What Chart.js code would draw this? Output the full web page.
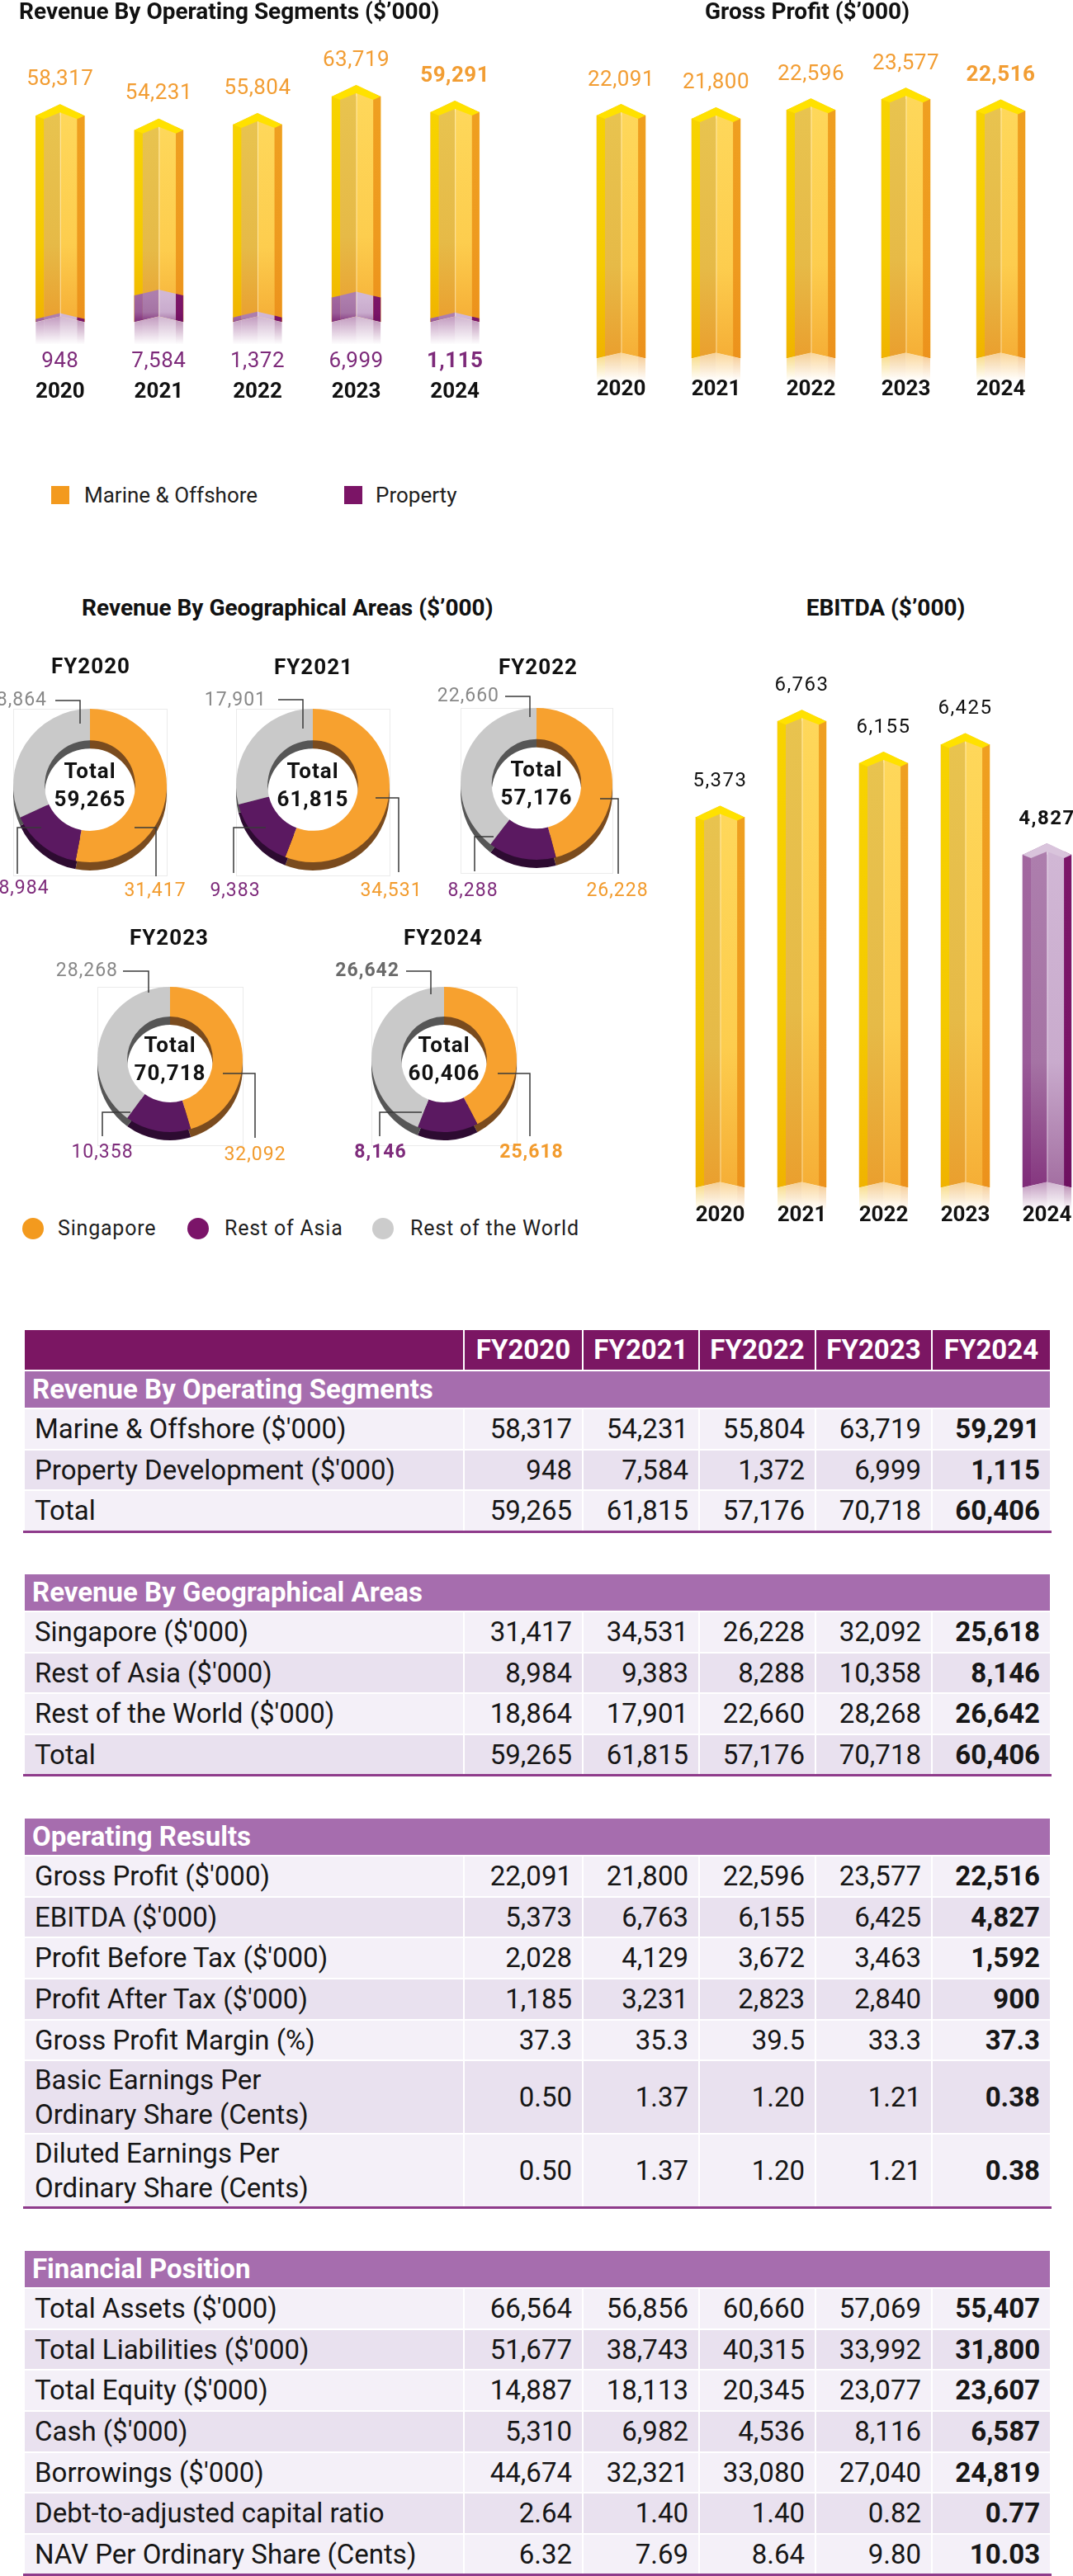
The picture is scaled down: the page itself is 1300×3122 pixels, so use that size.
<!DOCTYPE html>
<html><head><meta charset="utf-8">
<script src="https://cdn.jsdelivr.net/npm/chart.js@4.4.1/dist/chart.umd.min.js"></script>
<style>
html,body{margin:0;padding:0;background:#fff;}
body{width:1300px;height:3122px;position:relative;overflow:hidden;font-family:Roboto,"Noto Sans",sans-serif;color:#141414;}
.abs{position:absolute;white-space:nowrap;}
canvas{position:absolute;}
.ttl{font-weight:700;font-size:28px;line-height:32px;color:#111;}
.fy{font-weight:700;font-size:26px;line-height:30px;letter-spacing:1px;color:#111;text-align:center;width:200px;}
.lg{font-size:26px;line-height:30px;color:#1e1e1e;}
.glg{font-size:25px;line-height:30px;color:#1e1e1e;letter-spacing:0.8px;}
table.fin{position:absolute;left:28px;width:1244px;border-collapse:collapse;table-layout:fixed;font-size:33px;color:#161616;}
table.fin th,table.fin td{border:2px solid #fff;padding:0 12px;white-space:nowrap;overflow:hidden;vertical-align:middle;line-height:1.15;box-sizing:border-box;}
tr.hd th{background:#7B1663;color:#fff;font-weight:700;height:50px;text-align:center;padding:0;}
tr.sec td{background:#A66DAE;color:#fff;font-weight:700;height:46px;padding-left:9px;}
tr.lt td{background:#F4F0F8;height:49.7px;}
tr.dk td{background:#E9E1EF;height:49.7px;}
tr.two td{height:89px;}
tr.two td.lb{line-height:42px;}
td.num{text-align:right;}
td.hi{font-weight:700;}
tr.last td{border-bottom:3px solid #8E3B8B;}
</style></head><body>
<canvas id="segChart" width="598" height="562" style="left:13px;top:0px"></canvas>
<canvas id="gpChart" width="575" height="511" style="left:695px;top:0px"></canvas>
<canvas id="ebitdaChart" width="495" height="748" style="left:823px;top:760px"></canvas>
<script>
// ---------------- DATA ----------------
const years = ['2020', '2021', '2022', '2023', '2024'];
const fyLabels = ['FY2020', 'FY2021', 'FY2022', 'FY2023', 'FY2024'];
const segmentNames = ['Marine & Offshore', 'Property'];
const marineOffshore = [58317, 54231, 55804, 63719, 59291];
const propertyDev = [948, 7584, 1372, 6999, 1115];
const segmentTotals = [59265, 61815, 57176, 70718, 60406];
const grossProfit = [22091, 21800, 22596, 23577, 22516];
const ebitda = [5373, 6763, 6155, 6425, 4827];
const geoNames = ['Singapore', 'Rest of Asia', 'Rest of the World'];
const singapore = [31417, 34531, 26228, 32092, 25618];
const restOfAsia = [8984, 9383, 8288, 10358, 8146];
const restOfWorld = [18864, 17901, 22660, 28268, 26642];
const geoTotals = [59265, 61815, 57176, 70718, 60406];
const profitBeforeTax = [2028, 4129, 3672, 3463, 1592];
const profitAfterTax = [1185, 3231, 2823, 2840, 900];
const grossProfitMargin = [37.3, 35.3, 39.5, 33.3, 37.3];
const basicEps = [0.50, 1.37, 1.20, 1.21, 0.38];
const dilutedEps = [0.50, 1.37, 1.20, 1.21, 0.38];
const totalAssets = [66564, 56856, 60660, 57069, 55407];
const totalLiabilities = [51677, 38743, 40315, 33992, 31800];
const totalEquity = [14887, 18113, 20345, 23077, 23607];
const cash = [5310, 6982, 4536, 8116, 6587];
const borrowings = [44674, 32321, 33080, 27040, 24819];
const debtToAdjustedCapital = [2.64, 1.40, 1.40, 0.82, 0.77];
const navPerShare = [6.32, 7.69, 8.64, 9.80, 10.03];
const highlightIndex = 4;

// ---------------- STYLE ----------------
const fmt = (v, d = 0) => v.toLocaleString('en-US', {minimumFractionDigits: d, maximumFractionDigits: d});
const hexA = (hex, a) => { const n = parseInt(hex.slice(1), 16); return `rgba(${n >> 16 & 255},${n >> 8 & 255},${n & 255},${a})`; };
const ORANGE_TXT = '#F29D33', PURPLE_TXT = '#7D2A7A';
const GOLD = {
  left: ['#F7D300', '#F4C900', '#F0B300'],
  a: ['#E8C34F', '#E6BA47', '#EA9F2E'],
  b: ['#FED75A', '#FDCD4E', '#F5AE36'],
  right: ['#EF9F20', '#EE9A1F', '#EC921C'],
  cap: '#FFE100'
};
const PURPLE = {
  left: ['#A2679F', '#9A5B98', '#7E2A78'],
  a: ['#AD7EAD', '#A573A4', '#85367F'],
  b: ['#D1B7D5', '#C9ABCD', '#A36EA1'],
  right: ['#7C1669', '#7A1467', '#6E1060'],
  cap: '#D9C4DC'
};

function drawPrism(ctx, xc, w, top, bottom, pal, o) {
  const xl = xc - w / 2, xr = xc + w / 2, capH = 14, vH = 7, reflH = 27;
  const tri = x => 1 - Math.abs(x - xc) / (w / 2);
  const T = o.cap ? (x => top - capH * tri(x)) : (x => top - vH * tri(x));
  const B = x => bottom - vH * tri(x);
  const xs = [xl, xl + 0.17 * w, xc, xr - 0.15 * w, xr];
  const faces = [pal.left, pal.a, pal.b, pal.right];
  for (let i = 0; i < 4; i++) {
    const x0 = xs[i], x1 = xs[i + 1], c = faces[i];
    const g = ctx.createLinearGradient(0, top, 0, bottom);
    g.addColorStop(0, c[0]); g.addColorStop(0.62, c[1]); g.addColorStop(1, c[2]);
    ctx.fillStyle = g;
    ctx.beginPath();
    ctx.moveTo(x0, T(x0)); ctx.lineTo(x1, T(x1)); ctx.lineTo(x1, B(x1)); ctx.lineTo(x0, B(x0));
    ctx.closePath(); ctx.fill();
  }
  ctx.strokeStyle = 'rgba(255,255,255,0.5)'; ctx.lineWidth = 1;
  ctx.beginPath(); ctx.moveTo(xc + 0.5, T(xc)); ctx.lineTo(xc + 0.5, B(xc)); ctx.stroke();
  if (o.cap) {
    ctx.fillStyle = pal.cap;
    ctx.beginPath();
    ctx.moveTo(xl, top); ctx.lineTo(xc, top - capH); ctx.lineTo(xr, top);
    ctx.lineTo(xs[3], top + 4); ctx.lineTo(xc, top - 4); ctx.lineTo(xs[1], top + 4);
    ctx.closePath(); ctx.fill();
  }
  if (o.reflect) {
    ctx.fillStyle = '#fff';
    ctx.beginPath(); ctx.moveTo(xl - 1, bottom); ctx.lineTo(xc, bottom - vH); ctx.lineTo(xr + 1, bottom);
    ctx.lineTo(xr + 1, bottom + 2); ctx.lineTo(xl - 1, bottom + 2); ctx.closePath(); ctx.fill();
    for (let i = 0; i < 4; i++) {
      const x0 = xs[i], x1 = xs[i + 1], c = faces[i][2];
      const g = ctx.createLinearGradient(0, bottom - vH, 0, bottom + reflH);
      g.addColorStop(0, hexA(c, 0.5)); g.addColorStop(1, hexA(c, 0));
      ctx.fillStyle = g;
      ctx.beginPath();
      ctx.moveTo(x0, B(x0)); ctx.lineTo(x1, B(x1)); ctx.lineTo(x1, bottom + reflH); ctx.lineTo(x0, bottom + reflH);
      ctx.closePath(); ctx.fill();
    }
  }
}

function barOptions(padTop, padBottom, tickPad, yMax) {
  return {
    responsive: false, animation: false, events: [], devicePixelRatio: 1,
    layout: {padding: {top: padTop, bottom: padBottom, left: 0, right: 0}},
    plugins: {legend: {display: false}, tooltip: {enabled: false}},
    scales: {
      x: {grid: {display: false, drawTicks: false}, border: {display: false},
          afterFit: s => { s.paddingLeft = 0; s.paddingRight = 0; },
          ticks: {padding: tickPad, color: '#111', font: {family: 'Roboto', size: 26, weight: 'bold'}}},
      y: {display: false, min: 0, max: yMax}
    }
  };
}

// ---------------- CHART 1: Revenue by operating segments ----------------
new Chart(document.getElementById('segChart'), {
  type: 'bar',
  data: {labels: years, datasets: [
    {label: segmentNames[0], data: marineOffshore, backgroundColor: '#F5BB40', grouped: false, barThickness: 59, borderWidth: 0},
    {label: segmentNames[1], data: propertyDev, backgroundColor: '#A874A8', grouped: false, barThickness: 59, borderWidth: 0}
  ]},
  options: barOptions(60, 1.4, 69.4, 77000),
  plugins: [{id: 'segPrism', afterDatasetsDraw(chart) {
    const ctx = chart.ctx, m0 = chart.getDatasetMeta(0).data, m1 = chart.getDatasetMeta(1).data;
    const d0 = chart.data.datasets[0].data, d1 = chart.data.datasets[1].data;
    ctx.save();
    m0.forEach((el, i) => {
      const p = m1[i];
      drawPrism(ctx, el.x, el.width, el.y, el.base, GOLD, {cap: true});
      drawPrism(ctx, p.x, p.width, p.y, p.base, PURPLE, {cap: false, reflect: true});
    });
    ctx.textAlign = 'center'; ctx.textBaseline = 'middle'; ctx.letterSpacing = '0.5px';
    m0.forEach((el, i) => {
      const hi = i === highlightIndex;
      ctx.font = `${hi ? 'bold ' : ''}26px Roboto`;
      ctx.fillStyle = ORANGE_TXT; ctx.fillText(fmt(d0[i]), el.x, el.y - 44);
      ctx.fillStyle = PURPLE_TXT; ctx.fillText(fmt(d1[i]), el.x, el.base + 48);
    });
    ctx.restore();
  }}]
});

// ---------------- CHART 2: Gross profit ----------------
new Chart(document.getElementById('gpChart'), {
  type: 'bar',
  data: {labels: years, datasets: [{label: 'Gross Profit', data: grossProfit, backgroundColor: '#F5BB40', barThickness: 59, borderWidth: 0}]},
  options: barOptions(60, 0.4, 22.4, 28100),
  plugins: [{id: 'gpPrism', afterDatasetsDraw(chart) {
    const ctx = chart.ctx, m = chart.getDatasetMeta(0).data, d = chart.data.datasets[0].data;
    ctx.save();
    m.forEach(el => drawPrism(ctx, el.x, el.width, el.y, el.base, GOLD, {cap: true, reflect: true}));
    ctx.textAlign = 'center'; ctx.textBaseline = 'middle'; ctx.letterSpacing = '0.5px'; ctx.fillStyle = ORANGE_TXT;
    m.forEach((el, i) => { ctx.font = `${i === highlightIndex ? 'bold ' : ''}26px Roboto`; ctx.fillText(fmt(d[i]), el.x, el.y - 43); });
    ctx.restore();
  }}]
});

// ---------------- CHART 3: EBITDA ----------------
new Chart(document.getElementById('ebitdaChart'), {
  type: 'bar',
  data: {labels: years, datasets: [{label: 'EBITDA', data: ebitda,
    backgroundColor: years.map((y, i) => i === highlightIndex ? '#A874A8' : '#F5BB40'), barThickness: 59, borderWidth: 0}]},
  options: barOptions(40, 0.4, 18.4, 7650),
  plugins: [{id: 'ebPrism', afterDatasetsDraw(chart) {
    const ctx = chart.ctx, m = chart.getDatasetMeta(0).data, d = chart.data.datasets[0].data;
    ctx.save();
    m.forEach((el, i) => drawPrism(ctx, el.x, el.width, el.y, el.base, i === highlightIndex ? PURPLE : GOLD, {cap: true, reflect: true}));
    ctx.textAlign = 'center'; ctx.textBaseline = 'middle'; ctx.letterSpacing = '1.5px'; ctx.fillStyle = '#111';
    m.forEach((el, i) => { ctx.font = `${i === highlightIndex ? 'bold ' : ''}24px Roboto`; ctx.fillText(fmt(d[i]), el.x, el.y - 43); });
    ctx.restore();
  }}]
});

// ---------------- DONUTS: Revenue by geographical areas ----------------
const donutColors = ['#F7A12F', '#5B1961', '#C9C9C9'];
const donutDark = ['#7A4B1E', '#2D0B31', '#565656'];
const calloutColors = ['#F29B2D', '#7E2B7B', '#888888'];
const donutLayout = [
  {cx: 109, cy: 952, R: 93, call: [
    {line: [[54, 51], [80, 51], [80, 110]], text: [79, 128], align: 'center'},
    {line: [[-59, 51], [-88, 51], [-88, 107]], text: [-80, 125], align: 'center'},
    {line: [[-42, -103], [-12, -103], [-12, -75]], text: [-52, -103], align: 'right'}]},
  {cx: 379, cy: 952, R: 93, call: [
    {line: [[76, 15], [104, 15], [104, 105]], text: [95, 128], align: 'center'},
    {line: [[-57, 51], [-96, 51], [-96, 106]], text: [-94, 128], align: 'center'},
    {line: [[-42, -104], [-12, -104], [-12, -69]], text: [-56, -103], align: 'right'}]},
  {cx: 650, cy: 950, R: 92, call: [
    {line: [[77, 18], [99, 18], [99, 109]], text: [98, 130], align: 'center'},
    {line: [[-52, 64], [-75, 64], [-75, 106]], text: [-77, 130], align: 'center'},
    {line: [[-38, -106], [-8, -106], [-8, -81]], text: [-45, -106], align: 'right'}]},
  {cx: 206, cy: 1284, R: 88, call: [
    {line: [[64, 17], [103, 17], [103, 95]], text: [103, 116], align: 'center'},
    {line: [[-48, 64], [-82, 64], [-82, 93]], text: [-82, 113], align: 'center'},
    {line: [[-57, -107], [-26, -107], [-26, -81]], text: [-63, -107], align: 'right'}]},
  {cx: 538, cy: 1284, R: 88, call: [
    {line: [[65, 17], [104, 17], [104, 93]], text: [106, 113], align: 'center'},
    {line: [[-27, 64], [-78, 64], [-78, 93]], text: [-77, 113], align: 'center'},
    {line: [[-46, -107], [-16, -107], [-16, -79]], text: [-54, -107], align: 'right'}]}
];
const fyLabelPos = [[110, 807], [380, 808], [652, 808], [205, 1136], [537, 1136]];

const donutPlugin = {
  id: 'donut3d',
  beforeDatasetsDraw(chart, args, opts) {
    const ctx = chart.ctx, arcs = chart.getDatasetMeta(0).data, a0 = arcs[0], R = a0.outerRadius;
    ctx.save();
    ctx.strokeStyle = 'rgba(0,0,0,0.08)'; ctx.lineWidth = 1;
    ctx.strokeRect(Math.round(a0.x - R) + 0.5, Math.round(a0.y - R) + 0.5, 2 * R, 2 * R + opts.depth + 6);
    arcs.forEach((el, k) => {
      ctx.fillStyle = donutDark[k];
      ctx.beginPath();
      ctx.arc(el.x, el.y + opts.depth, el.outerRadius, el.startAngle, el.endAngle);
      ctx.arc(el.x, el.y + opts.depth, el.innerRadius, el.endAngle, el.startAngle, true);
      ctx.closePath(); ctx.fill();
    });
    ctx.restore();
  },
  afterDatasetsDraw(chart, args, opts) {
    const ctx = chart.ctx, a0 = chart.getDatasetMeta(0).data[0], cx = a0.x, cy = a0.y;
    const vals = chart.data.datasets[0].data;
    ctx.save();
    ctx.textBaseline = 'middle'; ctx.letterSpacing = '1px'; ctx.fillStyle = '#111'; ctx.textAlign = 'center';
    ctx.font = 'bold 26px Roboto';
    ctx.fillText('Total', cx, cy - 16);
    ctx.fillText(fmt(opts.total), cx, cy + 18);
    ctx.strokeStyle = '#3a3a3a'; ctx.lineWidth = 1.5;
    opts.call.forEach((c, k) => {
      ctx.beginPath();
      c.line.forEach((p, j) => j ? ctx.lineTo(cx + p[0], cy + p[1]) : ctx.moveTo(cx + p[0], cy + p[1]));
      ctx.stroke();
      ctx.font = `${opts.bold ? 'bold ' : ''}23px Roboto`;
      ctx.fillStyle = (opts.bold && k === 2) ? '#6a6a6a' : calloutColors[k];
      ctx.textAlign = c.align;
      ctx.fillText(fmt(vals[k]), cx + c.text[0], cy + c.text[1]);
    });
    ctx.restore();
  }
};

donutLayout.forEach((L, i) => {
  const cv = document.createElement('canvas');
  cv.width = 300; cv.height = 300;
  cv.style.left = (L.cx - 150) + 'px'; cv.style.top = (L.cy - 150) + 'px';
  document.body.appendChild(cv);
  new Chart(cv, {
    type: 'doughnut',
    data: {labels: geoNames, datasets: [{data: [singapore[i], restOfAsia[i], restOfWorld[i]],
      backgroundColor: donutColors, borderWidth: 0, hoverBorderWidth: 0, hoverOffset: 0}]},
    options: {
      responsive: false, animation: false, events: [], devicePixelRatio: 1, cutout: '59%',
      layout: {padding: 150 - L.R},
      plugins: {legend: {display: false}, tooltip: {enabled: false},
        donut3d: {depth: 10, total: geoTotals[i], call: L.call, bold: i === highlightIndex}}
    },
    plugins: [donutPlugin]
  });
  const fy = document.createElement('div');
  fy.className = 'abs fy'; fy.textContent = fyLabels[i];
  fy.style.left = (fyLabelPos[i][0] - 100) + 'px'; fy.style.top = (fyLabelPos[i][1] - 15) + 'px';
  document.body.appendChild(fy);
});

// ---------------- TITLES & LEGENDS ----------------
function addText(txt, cls, left, top, extra) {
  const d = document.createElement('div'); d.className = 'abs ' + cls; d.textContent = txt;
  d.style.left = left + 'px'; d.style.top = top + 'px'; if (extra) Object.assign(d.style, extra);
  document.body.appendChild(d); return d;
}
addText('Revenue By Operating Segments ($\u2019000)', 'ttl', 23, -2);
addText('Gross Profit ($\u2019000)', 'ttl', 678, -2, {width: '600px', textAlign: 'center'});
addText('Revenue By Geographical Areas ($\u2019000)', 'ttl', 99, 721);
addText('EBITDA ($\u2019000)', 'ttl', 873, 721, {width: '400px', textAlign: 'center'});

const segLegendColors = ['#F39A1E', '#7B1466'];
const segLegendX = [[62, 102], [417, 455]];
segmentNames.forEach((n, k) => {
  addText('', '', segLegendX[k][0], 589, {width: '22px', height: '22px', background: segLegendColors[k]});
  addText(n, 'lg', segLegendX[k][1], 585);
});
const geoLegendColors = ['#F39A1E', '#7B1469', '#CCCCCC'];
const geoLegendX = [[27, 70], [227, 272], [451, 497]];
geoNames.forEach((n, k) => {
  addText('', '', geoLegendX[k][0], 1476, {width: '26px', height: '26px', borderRadius: '50%', background: geoLegendColors[k]});
  addText(n, 'glg', geoLegendX[k][1], 1474);
});

// ---------------- TABLE ----------------
const tableSections = [
  {title: 'Revenue By Operating Segments', rows: [
    ["Marine & Offshore ($'000)", marineOffshore, 0],
    ["Property Development ($'000)", propertyDev, 0],
    ['Total', segmentTotals, 0]]},
  {title: 'Revenue By Geographical Areas', rows: [
    ["Singapore ($'000)", singapore, 0],
    ["Rest of Asia ($'000)", restOfAsia, 0],
    ["Rest of the World ($'000)", restOfWorld, 0],
    ['Total', geoTotals, 0]]},
  {title: 'Operating Results', rows: [
    ["Gross Profit ($'000)", grossProfit, 0],
    ["EBITDA ($'000)", ebitda, 0],
    ["Profit Before Tax ($'000)", profitBeforeTax, 0],
    ["Profit After Tax ($'000)", profitAfterTax, 0],
    ['Gross Profit Margin (%)', grossProfitMargin, 1],
    ['Basic Earnings Per\nOrdinary Share (Cents)', basicEps, 2],
    ['Diluted Earnings Per\nOrdinary Share (Cents)', dilutedEps, 2]]},
  {title: 'Financial Position', rows: [
    ["Total Assets ($'000)", totalAssets, 0],
    ["Total Liabilities ($'000)", totalLiabilities, 0],
    ["Total Equity ($'000)", totalEquity, 0],
    ["Cash ($'000)", cash, 0],
    ["Borrowings ($'000)", borrowings, 0],
    ['Debt-to-adjusted capital ratio', debtToAdjustedCapital, 2],
    ['NAV Per Ordinary Share (Cents)', navPerShare, 2]]}
];
const tableTops = [1610, 1906, 2202, 2726];
const colWidths = [533, 144, 141, 141, 141, 144];
const esc = s => s.replace(/&/g, '&amp;');
tableSections.forEach((sec, s) => {
  const t = document.createElement('table');
  t.className = 'fin'; t.style.top = tableTops[s] + 'px';
  let h = '<colgroup>' + colWidths.map(w => `<col style="width:${w}px">`).join('') + '</colgroup>';
  if (s === 0) h += '<tr class="hd"><th></th>' + fyLabels.map(f => `<th>${f}</th>`).join('') + '</tr>';
  h += `<tr class="sec"><td colspan="6">${esc(sec.title)}</td></tr>`;
  sec.rows.forEach((r, k) => {
    const cls = (k % 2 ? 'dk' : 'lt') + (r[0].includes('\n') ? ' two' : '') + (k === sec.rows.length - 1 ? ' last' : '');
    h += `<tr class="${cls}"><td class="lb">${esc(r[0]).replace('\n', '<br>')}</td>` +
      r[1].map((v, j) => `<td class="num${j === highlightIndex ? ' hi' : ''}">${fmt(v, r[2])}</td>`).join('') + '</tr>';
  });
  t.innerHTML = h;
  document.body.appendChild(t);
});
</script>
</body></html>
